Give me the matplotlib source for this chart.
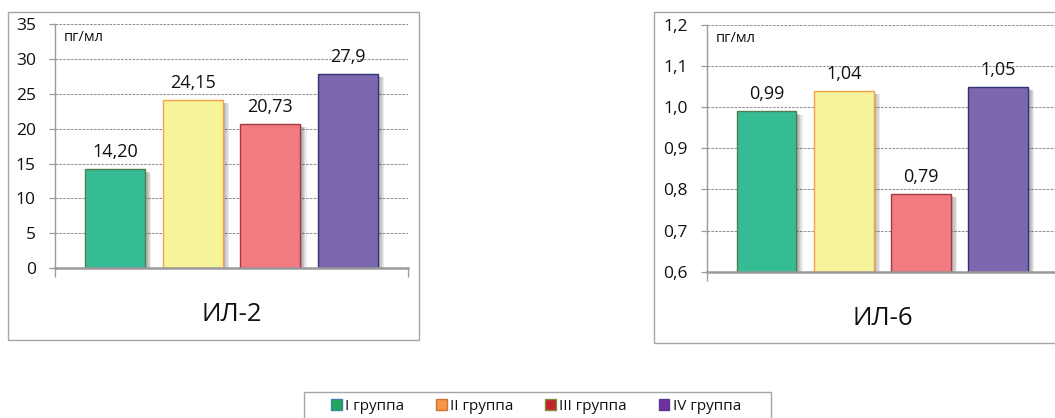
import matplotlib
matplotlib.use("Agg")
import matplotlib.pyplot as plt
from matplotlib.patches import Rectangle, Patch
import matplotlib.patheffects as pe

plt.rcParams['font.family'] = ['Open Sans', 'DejaVu Sans']

# Data
groups = ["I группа", "II группа", "III группа", "IV группа"]
il2_labels = ["14,20", "24,15", "20,73", "27,9"]
il6_labels = ["0,99", "1,04", "0,79", "1,05"]
il2_values = [float(s.replace(",", ".")) for s in il2_labels]
il6_values = [float(s.replace(",", ".")) for s in il6_labels]
il2_ticks = [0, 5, 10, 15, 20, 25, 30, 35]
il6_ticks = [0.6, 0.7, 0.8, 0.9, 1.0, 1.1, 1.2]
unit = "пг/мл"

# Styling
bar_fill = ["#35BC94", "#F7F39A", "#F27A81", "#7D67AE"]
bar_edge = ["#4F7F4F", "#F9A044", "#A33A40", "#2F3570"]
legend_fill = ["#22A65A", "#F79646", "#C0242B", "#7030A0"]
legend_edge = ["#3F84A6", "#D0703A", "#7F8F3F", "#5A3A90"]
axis_grey = "#9A9A9A"
grid_grey = "#939393"

W, H = 1055, 418
fig = plt.figure(figsize=(W / 100, H / 100), dpi=100)


def px_rect(x0, y0, x1, y1):
    """Convert pixel box (top-left origin) to figure fraction [l, b, w, h]."""
    return [x0 / W, (H - y1) / H, (x1 - x0) / W, (y1 - y0) / H]


def px_frame(x0, y0, x1, y1):
    fig.add_artist(Rectangle((x0 / W, (H - y1) / H), (x1 - x0) / W,
                             (y1 - y0) / H, transform=fig.transFigure,
                             fill=False, edgecolor="#A6A6A6", linewidth=1.0))


shadow = [pe.SimplePatchShadow(offset=(k * 0.9, -1.6 - k * 0.2),
                               shadow_rgbFace="#000000", alpha=0.08)
          for k in range(1, 6)] + [pe.Normal()]


def draw_panel(rect, values, labels, ticks, ymin, name, fmt):
    ax = fig.add_axes(rect)
    pos = [(i - 1.5) * 0.22 for i in range(len(values))]
    heights = [v - ymin for v in values]
    bars = ax.bar(pos, heights, width=0.17, bottom=ymin, color=bar_fill,
                  edgecolor=bar_edge, linewidth=1.0, zorder=3)
    for b in bars:
        b.set_path_effects(shadow)
    for p, v, lab in zip(pos, values, labels):
        ax.annotate(lab, xy=(p, v), xytext=(0, 8.6), textcoords="offset points",
                    ha="center", va="baseline", fontsize=13, color="#111111",
                    zorder=5)
    ax.set_xlim(-0.5, 0.5)
    ax.set_ylim(ticks[0], ticks[-1])
    ax.set_yticks(ticks)
    ax.set_yticklabels([fmt(t) for t in ticks])
    ax.yaxis.grid(True, color=grid_grey, linestyle=(0, (2.5, 1.2)),
                  linewidth=0.75, zorder=0)
    ax.set_axisbelow(True)
    for s in ("top", "right"):
        ax.spines[s].set_visible(False)
    ax.spines["left"].set_color(axis_grey)
    ax.spines["left"].set_linewidth(1.0)
    ax.spines["bottom"].set_color(axis_grey)
    ax.spines["bottom"].set_linewidth(1.8)
    ax.spines["bottom"].set_zorder(4)
    ax.tick_params(axis="y", direction="out", length=4.3, width=0.9,
                   color=axis_grey, pad=9.5, labelsize=12.5, labelcolor="#111111")
    # category boundaries carry the tick marks; the category name sits below
    ax.set_xticks([])
    ax.set_xticks([-0.5, 0.5], minor=True)
    ax.tick_params(axis="x", which="minor", direction="out", length=6.5,
                   width=0.9, color=axis_grey, labelbottom=False)
    ax.annotate(name, xy=(0.5, 0), xycoords="axes fraction", xytext=(0, -38.5),
                textcoords="offset points", ha="center", va="baseline",
                fontsize=18.5, color="#111111")
    ax.annotate(unit, xy=(0, 1), xycoords="axes fraction", xytext=(6.5, -9.5),
                textcoords="offset points", ha="left", va="center",
                fontsize=10.5, color="#111111")
    return ax


def int_fmt(v):
    return f"{v:.0f}"


def dec_fmt(v):
    return f"{v:.1f}".replace(".", ",")


# Chart frames
px_frame(8, 12, 419, 340)
px_frame(654, 12, 1080, 342.5)

draw_panel(px_rect(55, 24.3, 408, 268), il2_values, il2_labels, il2_ticks, 0,
           "ИЛ-2", int_fmt)
draw_panel(px_rect(706.7, 25, 1058, 271.7), il6_values, il6_labels, il6_ticks,
           0.6, "ИЛ-6", dec_fmt)

# Legend box and entries
px_frame(304, 392, 771, 430)
handles = [Patch(facecolor=f, edgecolor=e, linewidth=1.0)
           for f, e in zip(legend_fill, legend_edge)]
leg = fig.legend(handles, groups, loc="upper center",
                 bbox_to_anchor=(536 / W, (H - 399) / H),
                 ncol=4, frameon=False, fontsize=11, handlelength=0.68,
                 handleheight=0.68, handletextpad=0.22, borderpad=0,
                 columnspacing=2.1, borderaxespad=0)
for t in leg.get_texts():
    t.set_color("#111111")

fig.savefig("out.png", dpi=100)
